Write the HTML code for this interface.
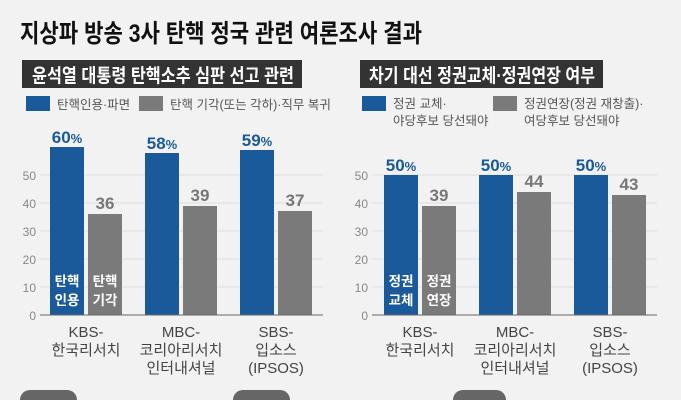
<!DOCTYPE html>
<html><head><meta charset="utf-8"><style>
body{margin:0;width:681px;height:400px;overflow:hidden;background:#f2f2f2;}
svg{display:block;font-family:"Liberation Sans","Noto Sans CJK KR",sans-serif;}
</style></head><body>
<svg width="681" height="400" viewBox="0 0 681 400">
<rect width="681" height="400" fill="#f2f2f2"/>
<text x="20" y="42" font-size="25" font-weight="bold" fill="#111" textLength="402" lengthAdjust="spacingAndGlyphs">지상파 방송 3사 탄핵 정국 관련 여론조사 결과</text>
<rect x="22" y="60" width="280" height="28" fill="#333"/>
<text x="32" y="82" font-size="19" font-weight="bold" fill="#fff" textLength="262" lengthAdjust="spacingAndGlyphs">윤석열 대통령 탄핵소추 심판 선고 관련</text>
<rect x="360" y="60" width="243" height="28" fill="#333"/>
<text x="369" y="82" font-size="19" font-weight="bold" fill="#fff" textLength="226" lengthAdjust="spacingAndGlyphs">차기 대선 정권교체·정권연장 여부</text>
<!-- legends -->
<rect x="26" y="96" width="24" height="15" fill="#1a5a9a"/>
<text x="57" y="109" font-size="12.5" fill="#555">탄핵인용·파면</text>
<rect x="139" y="96" width="24" height="15" fill="#7a7a7a"/>
<text x="170" y="109" font-size="12.5" fill="#555">탄핵 기각(또는 각하)·직무 복귀</text>
<rect x="362" y="96" width="24" height="15" fill="#1a5a9a"/>
<text x="393" y="108" font-size="12.5" fill="#555">정권 교체·</text>
<text x="393" y="125" font-size="12.5" fill="#555">야당후보 당선돼야</text>
<rect x="493" y="96" width="24" height="15" fill="#7a7a7a"/>
<text x="524" y="108" font-size="12.5" fill="#555">정권연장(정권 재창출)·</text>
<text x="524" y="125" font-size="12.5" fill="#555">여당후보 당선돼야</text>
<g stroke="#ddd" stroke-width="1">
<line x1="40" y1="175" x2="323" y2="175"/><line x1="40" y1="203" x2="323" y2="203"/>
<line x1="40" y1="231" x2="323" y2="231"/><line x1="40" y1="259" x2="323" y2="259"/>
<line x1="40" y1="287" x2="323" y2="287"/>
<line x1="372" y1="175" x2="657" y2="175"/><line x1="372" y1="203" x2="657" y2="203"/>
<line x1="372" y1="231" x2="657" y2="231"/><line x1="372" y1="259" x2="657" y2="259"/>
<line x1="372" y1="287" x2="657" y2="287"/>
</g>
<g font-size="12" fill="#888" text-anchor="end">
<text x="36" y="180">50</text><text x="36" y="208">40</text><text x="36" y="236">30</text><text x="36" y="264">20</text><text x="36" y="292">10</text><text x="36" y="320">0</text>
<text x="368" y="180">50</text><text x="368" y="208">40</text><text x="368" y="236">30</text><text x="368" y="264">20</text><text x="368" y="292">10</text><text x="368" y="320">0</text>
</g>
<g fill="#1a5a9a">
<rect x="50" y="147" width="34" height="168"/><rect x="145" y="153" width="34" height="162"/><rect x="240" y="150" width="34" height="165"/>
<rect x="384" y="175" width="34" height="140"/><rect x="479" y="175" width="34" height="140"/><rect x="574" y="175" width="34" height="140"/>
</g>
<g fill="#7a7a7a">
<rect x="88" y="214" width="34" height="101"/><rect x="183" y="206" width="34" height="109"/><rect x="278" y="211" width="34" height="104"/>
<rect x="422" y="206" width="34" height="109"/><rect x="517" y="192" width="34" height="123"/><rect x="612" y="195" width="34" height="120"/>
</g>
<line x1="40" y1="315" x2="323" y2="315" stroke="#666"/>
<line x1="372" y1="315" x2="657" y2="315" stroke="#666"/>
<g font-size="17" font-weight="bold" fill="#1a5a9a" text-anchor="middle">
<text x="67" y="143">60<tspan font-size="13">%</tspan></text>
<text x="162" y="149">58<tspan font-size="13">%</tspan></text>
<text x="257" y="146">59<tspan font-size="13">%</tspan></text>
<text x="401" y="171">50<tspan font-size="13">%</tspan></text>
<text x="496" y="171">50<tspan font-size="13">%</tspan></text>
<text x="591" y="171">50<tspan font-size="13">%</tspan></text>
</g>
<g font-size="17" font-weight="bold" fill="#777" text-anchor="middle">
<text x="105" y="209">36</text><text x="200" y="201">39</text><text x="295" y="206">37</text>
<text x="439" y="201">39</text><text x="534" y="187">44</text><text x="629" y="190">43</text>
</g>
<g font-size="13.5" font-weight="bold" fill="#fff" text-anchor="middle">
<text x="67" y="286">탄핵</text><text x="67" y="305">인용</text>
<text x="105" y="286">탄핵</text><text x="105" y="305">기각</text>
<text x="401" y="286">정권</text><text x="401" y="305">교체</text>
<text x="439" y="286">정권</text><text x="439" y="305">연장</text>
</g>
<g font-size="15" fill="#444" text-anchor="middle">
<text x="86" y="337">KBS-</text><text x="86" y="355">한국리서치</text>
<text x="181" y="337">MBC-</text><text x="181" y="355">코리아리서치</text><text x="181" y="373">인터내셔널</text>
<text x="276" y="337">SBS-</text><text x="276" y="355">입소스</text><text x="276" y="373">(IPSOS)</text>
<text x="420" y="337">KBS-</text><text x="420" y="355">한국리서치</text>
<text x="515" y="337">MBC-</text><text x="515" y="355">코리아리서치</text><text x="515" y="373">인터내셔널</text>
<text x="610" y="337">SBS-</text><text x="610" y="355">입소스</text><text x="610" y="373">(IPSOS)</text>
</g>
<g fill="#666">
<rect x="20" y="390" width="57" height="20" rx="10"/>
<rect x="233" y="390" width="57" height="20" rx="10"/>
<rect x="453" y="390" width="53" height="20" rx="10"/>
</g>
</svg>
</body></html>
